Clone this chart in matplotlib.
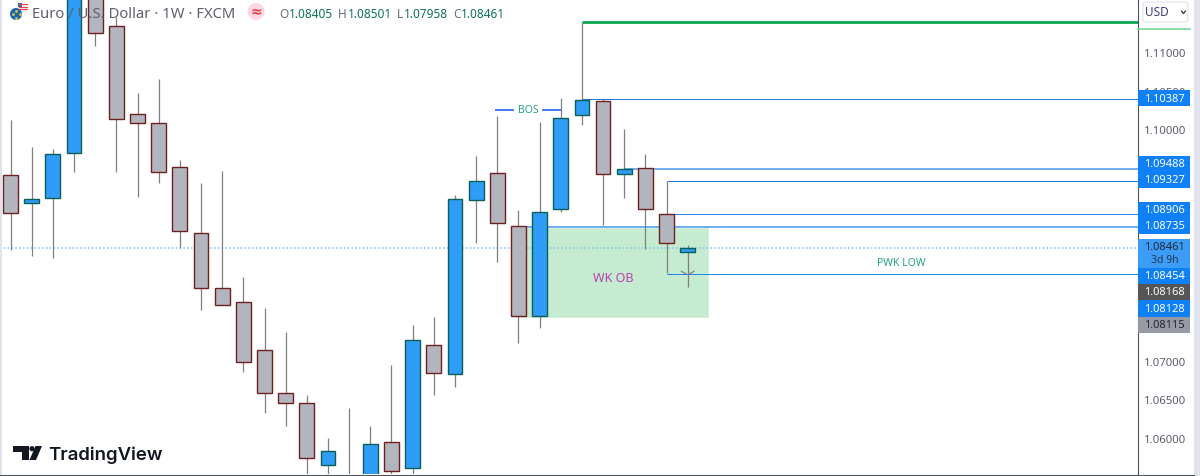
import matplotlib
matplotlib.use("Agg")
import matplotlib.pyplot as plt
from matplotlib.patches import Rectangle, Polygon, Circle, FancyBboxPatch

plt.rcParams['font.family'] = ['Noto Sans', 'DejaVu Sans']

# weekly candles, some run off the visible window
opens = [1.09407, 1.09044, 1.09109, 1.09692, 1.1195, 1.11337, 1.10197, 1.1008, 1.0951, 1.08655, 1.07943,
         1.07762, 1.0714, 1.06583, 1.06453, 1.0565, 1.0540, 1.0530, 1.05948, 1.05612, 1.07205, 1.06829,
         1.09083, 1.09433, 1.08746, 1.0758, 1.08966, 1.10184, 1.10365, 1.0942, 1.09497, 1.08902, 1.08405]
closes = [1.08915, 1.09096, 1.09679, 1.1190, 1.11246, 1.10132, 1.1008, 1.09446, 1.08681, 1.07943, 1.07723,
          1.06985, 1.06583, 1.06453, 1.05741, 1.05832, 1.0525, 1.05922, 1.05573, 1.0727, 1.06842, 1.09096,
          1.09329, 1.08785, 1.0758, 1.08928, 1.10145, 1.10378, 1.0942, 1.09485, 1.08966, 1.08526, 1.08461]
highs = [1.10119, 1.09769, 1.09744, 1.1215, 1.1215, 1.11453, 1.10469, 1.1065, 1.09601, 1.09303, 1.09459,
         1.08086, 1.07684, 1.07373, 1.06557, 1.06, 1.06389, 1.06156, 1.06946, 1.07464, 1.07567, 1.09148,
         1.09653, 1.10171, 1.08953, 1.10093, 1.10404, 1.11389, 1.10391, 1.1, 1.09679, 1.09329, 1.08501]
lows = [1.08435, 1.08358, 1.08332, 1.09446, 1.11078, 1.09446, 1.09122, 1.09303, 1.08461, 1.07658, 1.07723,
        1.06855, 1.06324, 1.06156, 1.0535, 1.0535, 1.0510, 1.0515, 1.0535, 1.0540, 1.06557, 1.06661,
        1.08526, 1.0828, 1.07231, 1.07425, 1.08928, 1.10054, 1.08759, 1.09109, 1.08448, 1.08137, 1.07958]

# 1.095, 1.085 and 1.08 sit fully under the price tags, so they are left out
price_ticks = [1.11, 1.105, 1.10, 1.09, 1.07, 1.065, 1.06]

# horizontal levels: price, first candle
level_prices = [1.10387, 1.09488, 1.09327, 1.08906, 1.08735, 1.08128]
level_starts = [27, 29, 31, 31, 24, 31]
high_line = 1.11389
last_close = 1.08461
ob_top, ob_bottom = 1.0872, 1.07567
bos_price = 1.10249

axis_labels = ['1.10387', '1.09488', '1.09327', '1.08906', '1.08735', '1.08454', '1.08168', '1.08128', '1.08115']

DOWN_FILL = '#b2b5be'
DOWN_EDGE = '#701f1f'
UP_FILL = '#2f9cf7'
UP_EDGE = '#0b5f58'
WICK = '#7f7f7f'
X_END = 53.28

fig = plt.figure(figsize=(12, 4.77), dpi=100)
ax = fig.add_axes([0, 2 / 477, 1138 / 1200, 475 / 477])
ax.set_xlim(-0.50, X_END)
ax.set_ylim(1.055337, 1.116866)

ax.add_patch(Rectangle((24, ob_bottom), 8.98, ob_top - ob_bottom, facecolor='#c5ebd0', edgecolor='#d5f0dc', lw=0.7, zorder=1))
ax.axhline(last_close, color='#7cc0f4', lw=1.1, ls=(0, (1, 1.5)), zorder=1.5)

line_colors = ['#1f78d8', '#6fb0ee', '#1f78d8', '#2f86e0', '#6fb0ee', '#1f86e8']
line_widths = [1, 2, 1, 1, 2, 1]
for p, s, c, w in zip(level_prices, level_starts, line_colors, line_widths):
    ax.hlines(p, s, X_END, color=c, lw=w * 0.72, zorder=2)
ax.hlines(high_line, 27, X_END, color='#0ca750', lw=2, zorder=2)

# BOS marker
ax.hlines(bos_price, 22.9, 23.8, color='#1455f0', lw=1.1, zorder=2)
ax.hlines(bos_price, 25.1, 26, color='#1455f0', lw=1.1, zorder=2)
ax.text(24.45, bos_price, 'BOS', color='#26a18a', fontsize=7.5, ha='center', va='center', zorder=2)
ax.text(28.5, 1.0808, 'WK OB', color='#b93fb0', fontsize=9, ha='center', va='center', zorder=2)
ax.text(42.1, 1.08267, 'PWK LOW', color='#26a18a', fontsize=7.5, ha='center', va='center', zorder=2)

for i in range(len(opens)):
    up = closes[i] >= opens[i]
    ax.vlines(i, lows[i], highs[i], color=WICK, lw=0.9, zorder=3)
    ax.bar(i, abs(closes[i] - opens[i]), bottom=min(opens[i], closes[i]), width=0.7,
           color=UP_FILL if up else DOWN_FILL, edgecolor=UP_EDGE if up else DOWN_EDGE, lw=1, zorder=4)

# little chevron on the last wick
ax.plot([31.7, 31.95], [1.0816, 1.0812], color='#777777', lw=0.8, zorder=3)
ax.plot([32.05, 32.3], [1.0812, 1.0816], color='#777777', lw=0.8, zorder=3)

ax.set_xticks([])
ax.set_yticks(price_ticks)
ax.set_yticklabels([f'{p:.5f}' for p in price_ticks], fontsize=8.2, color='#5a5d68')
ax.yaxis.tick_right()
ax.tick_params(axis='y', length=0, pad=4.5)
for side in ['left', 'top']:
    ax.spines[side].set_visible(False)
ax.spines['right'].set_color('#50535e')
ax.spines['bottom'].set_visible(False)

# everything around the plot, in picture pixels
ov = fig.add_axes([0, 0, 1, 1], zorder=10)
ov.set_xlim(0, 1200)
ov.set_ylim(477, 0)
ov.axis('off')

ov.add_patch(Rectangle((0, 0), 2, 477, color='#e0e3eb', lw=0))
ov.add_patch(Rectangle((1194, 0), 6, 477, color='#e0e3eb', lw=0))
ov.plot([0, 1194], [475.5, 475.5], color='#50535e', lw=0.8)

label_boxes = [(91, 107), (157, 173), (173, 189), (203, 219), (219, 235), (269, 285), (285, 301), (301, 318), (318, 334)]
label_fills = ['#0f80f5', '#0f80f5', '#0f80f5', '#0f80f5', '#0f80f5', '#0f80f5', '#555555', '#0f80f5', '#979aa3']
label_text = ['white'] * 8 + ['#22252b']
for lab, (t, b), f, tc in zip(axis_labels, label_boxes, label_fills, label_text):
    ov.add_patch(Rectangle((1138, t), 52, b - t, color=f, lw=0))
    ov.text(1164.5, (t + b) / 2, lab, color=tc, fontsize=8, fontweight='bold' if tc == 'white' else 'normal',
            ha='center', va='center')

ov.add_patch(Rectangle((1138, 240), 52, 29, color='#3d9cf5', lw=0))
ov.text(1164.5, 248, '1.08461', color='#1b2a3a', fontsize=8, ha='center', va='center')
ov.text(1164.5, 261, '3d 9h', color='#1f3a55', fontsize=7.5, ha='center', va='center')

ov.plot([1138, 1190], [29.5, 29.5], color='#7fd8a5', lw=1.3)
ov.add_patch(FancyBboxPatch((1143, 3), 45, 20, boxstyle='round,pad=0,rounding_size=3', facecolor='white',
                            edgecolor='#e0e3eb', lw=0.8))
ov.text(1145, 13, 'USD', color='#3b3f78', fontsize=8.5, ha='left', va='center')
ov.plot([1181.5, 1183.5, 1185.5], [12, 14.5, 12], color='#333333', lw=0.9)

# header
ov.add_patch(Circle((22, 8), 5.5, color='#f7f0f0', lw=0))
for sy in [5, 7.5, 10]:
    ov.plot([19, 27], [sy, sy], color='#e8434f', lw=0.8)
ov.add_patch(Rectangle((17.5, 3.5), 4.5, 4, color='#3a6fb5', lw=0))
ov.add_patch(Circle((16, 15), 6, color='#1568b0', lw=0))
ov.plot([16, 12.5, 19.5, 16], [11.5, 15, 15, 18.5], ls='', marker='o', ms=1, color='#e8c53a')
ov.text(31.5, 14, 'Euro / U.S. Dollar · 1W · FXCM', color='#5d606b', fontsize=10.65, ha='left', va='center')
ov.add_patch(Circle((256, 12.5), 8.5, color='#fcd7e2', lw=0))
ov.text(256, 12, '≈', color='#f23645', fontsize=10, fontweight='bold', ha='center', va='center')
for letter, value, lx, vx in [('O', '1.08405', 279, 289), ('H', '1.08501', 338, 348),
                              ('L', '1.07958', 397, 404), ('C', '1.08461', 453, 461)]:
    ov.text(lx, 14, letter, color='#6a6d78', fontsize=8.5, ha='left', va='center')
    ov.text(vx, 14, value, color='#0b7358', fontsize=8.5, ha='left', va='center')

# TradingView logo
ov.add_patch(Polygon([(13, 447), (29, 447), (29, 461), (22, 461), (22, 453), (13, 453)], color='#131722', lw=0))
ov.add_patch(Circle((32, 449.7), 2.6, color='#131722', lw=0))
ov.add_patch(Polygon([(35.5, 447), (42, 447), (36, 461), (29.5, 461)], color='#131722', lw=0))
ov.text(48.5, 455, 'TradingView', color='#131722', fontsize=13.4, fontweight='semibold', ha='left', va='center',
        family=['Inter', 'DejaVu Sans'])

fig.savefig('out.png', dpi=100)
